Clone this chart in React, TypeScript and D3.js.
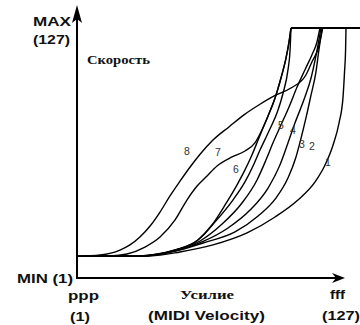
import React from "react";
import * as d3 from "d3";

// Velocity curves: input velocity (x) -> output level (y), 0..127 units
const curve1In = [0, 34.5, 48.6, 64.2, 80.3, 93.5, 104.3, 112.4, 117.1, 120.9, 123.7, 125.6, 126.3, 126.8, 127];
const curve1Out = [11, 11.2, 13.2, 16.8, 22.9, 31, 39.6, 48.8, 57.4, 67.6, 78.7, 91.9, 104.6, 115.8, 127];

const curve2In = [0, 29.7, 46.3, 59.5, 74.6, 85.5, 93.9, 99.6, 103.4, 105.8, 108.1, 110.5, 112.8, 114.2, 115.7];
const curve2Out = [11, 11.2, 13.7, 17.8, 23.4, 31.5, 40.6, 50.8, 61.5, 71.1, 81.3, 93, 104.6, 115.8, 127];

const curve3In = [0, 29.7, 46.3, 59, 71.3, 81.7, 90.2, 95.8, 99.6, 102.9, 107.6, 110.5, 112.4, 113.8, 115.2];
const curve3Out = [11, 11.2, 13.7, 18.3, 25.4, 34.5, 45.7, 57.4, 68.6, 78.7, 91.9, 101.6, 110.7, 118.4, 127];

const curve4In = [0, 29.7, 46.3, 58.1, 68.5, 77.9, 85, 89.2, 92.5, 96.3, 100.1, 103.9, 107.6, 110.9, 113.3, 114.7];
const curve4Out = [11, 11.2, 14.2, 18.8, 27.4, 38.1, 49.8, 59.9, 68.6, 77.7, 86.9, 97, 105.7, 113.3, 119.9, 127];

const curve5In = [0, 29.7, 46.3, 57.1, 65.1, 73.6, 79.3, 83.1, 86.4, 90.2, 94.9, 97.3, 99.6, 100.6, 101];
const curve5Out = [11, 11.2, 14.2, 19.3, 28.4, 39.6, 48.8, 56.9, 65, 73.7, 85.3, 94, 105.7, 115.8, 127];

const curve6In = [0, 29.7, 46.3, 57.1, 63.7, 69.9, 75.5, 79.3, 82.6, 85.5, 87.8, 90.2, 93.5, 96.3, 98.7, 100.1, 101];
const curve6Out = [11, 11.2, 14.2, 19.3, 26.9, 37.1, 47.2, 54.9, 62.5, 70.1, 76.2, 82.3, 91.4, 101.6, 111.8, 119.9, 127];

const curve7In = [0, 15.6, 23.6, 32.1, 39.2, 46.3, 51.9, 56.7, 61.4, 66.1, 73.2, 79.3, 84, 87.3, 90.2, 93.5, 96.3, 98.7, 100.1, 101];
const curve7Out = [11, 11.2, 12.2, 15.7, 20.8, 29.5, 39.6, 46.7, 51.8, 56.9, 61.5, 64.5, 68.6, 75.2, 82.3, 91.4, 101.6, 111.8, 119.9, 127];

const curve8In = [0, 11, 20.3, 25, 29.7, 34.5, 39.2, 43.9, 48.7, 53.4, 58.2, 64.2, 72, 79, 86, 94, 101, 108, 111, 114, 116];
const curve8Out = [11, 11.7, 14.2, 16.8, 20.8, 26.4, 33.5, 41.7, 49.3, 56.4, 63, 70.1, 77, 83, 88, 93, 96.5, 103, 110, 117, 127];

const curveNames = ["1", "2", "3", "4", "5", "6", "7", "8"];
const curveInputs = [curve1In, curve2In, curve3In, curve4In, curve5In, curve6In, curve7In, curve8In];
const curveOutputs = [curve1Out, curve2Out, curve3Out, curve4Out, curve5Out, curve6Out, curve7Out, curve8Out];

const maxValue = 127;

const W = 360;
const H = 325;

export default function App() {
  const x = d3.scaleLinear().domain([0, maxValue]).range([77, 346]);
  const y = d3.scaleLinear().domain([0, maxValue]).range([278, 28]);

  const line = d3
    .line<[number, number]>()
    .x((d) => x(d[0]))
    .y((d) => y(d[1]))
    .curve(d3.curveMonotoneX);

  const paths = curveInputs.map((xs, i) =>
    line(xs.map((v, j) => [v, curveOutputs[i][j]] as [number, number]))
  );

  const ceilStart = d3.min(curveInputs, (xs) => xs[xs.length - 1]) as number;

  const x0 = x(0);
  const y0 = y(0);

  const labelPos: [string, number, number][] = [
    ["8", 187, 151],
    ["7", 218, 152],
    ["6", 236, 169],
    ["5", 281, 125],
    ["4", 293, 130],
    ["3", 302, 144],
    ["2", 312, 146],
    ["1", 328, 162],
  ];

  const sans = "'Liberation Sans', Arial, sans-serif";
  const serif = "'Liberation Serif', 'Times New Roman', serif";

  return (
    <div style={{ position: "fixed", left: 0, top: 0 }}>
      <svg width={W} height={H} style={{ display: "block", background: "#fff" }}>
        {/* curves */}
        {paths.map((p, i) => (
          <path key={curveNames[i]} d={p || ""} fill="none" stroke="#000" strokeWidth={1.4} />
        ))}
        {/* ceiling */}
        <line x1={x(ceilStart)} x2={W} y1={y(maxValue)} y2={y(maxValue)} stroke="#000" strokeWidth={1.8} />

        {/* axes */}
        <line x1={x0} x2={x0} y1={y0 + 1} y2={12} stroke="#000" strokeWidth={2} />
        <path d={`M${x0},5 L${x0 + 5},23 L${x0},19 L${x0 - 5},23 Z`} fill="#000" />
        <line x1={x0 - 1} x2={336} y1={y0} y2={y0} stroke="#000" strokeWidth={2} />
        <path d={`M345,${y0} L332,${y0 - 5} L336,${y0} L332,${y0 + 5} Z`} fill="#000" />

        {/* curve labels */}
        {labelPos.map(([t, lx, ly]) => (
          <text key={t} x={lx} y={ly} fontFamily={sans} fontSize={10.5} fill="#333" textAnchor="middle" dominantBaseline="central">
            {t}
          </text>
        ))}

        {/* axis texts */}
        <text x={33} y={26} fontFamily={sans} fontWeight="bold" fontSize={13} textLength={38} lengthAdjust="spacingAndGlyphs" fill="#111">MAX</text>
        <text x={33} y={44} fontFamily={sans} fontWeight="bold" fontSize={13} textLength={37} lengthAdjust="spacingAndGlyphs" fill="#111">(127)</text>
        <text x={87} y={64} fontFamily={serif} fontWeight="bold" fontSize={12} textLength={63} lengthAdjust="spacingAndGlyphs" fill="#111">Скорость</text>
        <text x={17} y={283} fontFamily={sans} fontWeight="bold" fontSize={13} textLength={56} lengthAdjust="spacingAndGlyphs" fill="#111">MIN (1)</text>
        <text x={68} y={300} fontFamily={sans} fontWeight="bold" fontSize={13} textLength={31} lengthAdjust="spacingAndGlyphs" fill="#111">ppp</text>
        <text x={70} y={321} fontFamily={sans} fontWeight="bold" fontSize={13} textLength={20} lengthAdjust="spacingAndGlyphs" fill="#111">(1)</text>
        <text x={180} y={299} fontFamily={serif} fontWeight="bold" fontSize={12} textLength={54} lengthAdjust="spacingAndGlyphs" fill="#111">Усилие</text>
        <text x={148} y={320} fontFamily={sans} fontWeight="bold" fontSize={13} textLength={117} lengthAdjust="spacingAndGlyphs" fill="#111">(MIDI Velocity)</text>
        <text x={330} y={299} fontFamily={sans} fontWeight="bold" fontSize={13} textLength={15} lengthAdjust="spacingAndGlyphs" fill="#111">fff</text>
        <text x={322} y={320} fontFamily={sans} fontWeight="bold" fontSize={13} textLength={38} lengthAdjust="spacingAndGlyphs" fill="#111">(127)</text>
      </svg>
    </div>
  );
}
